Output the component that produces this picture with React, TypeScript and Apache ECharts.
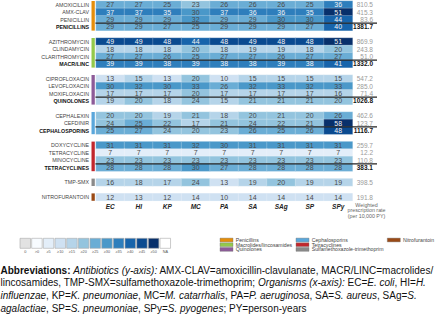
import React, { useEffect, useRef } from "react";
import * as echarts from "echarts";

const FONT = "Liberation Sans, Arial, sans-serif";

const organisms = ["EC", "HI", "KP", "MC", "PA", "SA", "SAg", "SP", "SPy"];

const groupNames = [
  "Penicillins",
  "Macrolides/lincosamides",
  "Quinolones",
  "Cephalosporins",
  "Tetracyclines",
  "Sulfamethoxazole-trimethoprim",
  "Nitrofurantoin",
];

const penicillinRows = ["AMOXICILLIN", "AMX-CLAV", "PENICILLIN", "PENICILLINS"];
const penicillinValues = [
  [27, 27, 25, 23, 26, 26, 26, 25, 36],
  [37, 37, 35, 30, 37, 36, 36, 35, 51],
  [29, 29, 29, 32, 29, 29, 30, 30, 44],
  [29, 29, 27, 25, 29, 29, 29, 27, 40],
];
const penicillinRates = [810.5, 415.3, 83.6, 1381.7];

const macrolideRows = ["AZITHROMYCIN", "CLINDAMYCIN", "CLARITHROMYCIN", "MACR/LINC"];
const macrolideValues = [
  [49, 49, 48, 44, 48, 49, 48, 48, 51],
  [18, 18, 18, 20, 18, 19, 19, 18, 20],
  [27, 27, 26, 25, 27, 27, 26, 27, 27],
  [39, 39, 38, 39, 38, 38, 39, 38, 41],
];
const macrolideRates = [869.9, 243.8, 51.0, 1332.0];

const quinoloneRows = ["CIPROFLOXACIN", "LEVOFLOXACIN", "MOXIFLOXACIN", "QUINOLONES"];
const quinoloneValues = [
  [13, 15, 13, 20, 10, 15, 15, 15, 15],
  [30, 32, 30, 33, 26, 32, 33, 32, 33],
  [17, 17, 17, 20, 17, 17, 17, 17, 16],
  [19, 20, 18, 24, 15, 21, 21, 21, 20],
];
const quinoloneRates = [547.2, 285.0, 71.4, 1026.8];

const cephalosporinRows = ["CEPHALEXIN", "CEFDINIR", "CEPHALOSPORINS"];
const cephalosporinValues = [
  [20, 20, 19, 21, 18, 20, 21, 20, 26],
  [24, 25, 22, 17, 21, 24, 22, 21, 58],
  [25, 27, 24, 20, 23, 26, 25, 26, 48],
];
const cephalosporinRates = [462.6, 123.7, 1116.7];

const tetracyclineRows = ["DOXYCYCLINE", "TETRACYCLINE", "MINOCYCLINE", "TETRACYCLINES"];
const tetracyclineValues = [
  [31, 31, 31, 32, 30, 31, 31, 31, 31],
  [7, 7, 7, 7, 7, 7, 7, 7, 7],
  [23, 23, 23, 23, 23, 23, 23, 23, 23],
  [28, 28, 28, 30, 27, 28, 28, 28, 28],
];
const tetracyclineRates = [259.7, 12.2, 110.8, 383.1];

const tmpSmxRows = ["TMP-SMX"];
const tmpSmxValues = [[16, 18, 17, 24, 13, 19, 20, 19, 19]];
const tmpSmxRates = [398.5];

const nitrofurantoinRows = ["NITROFURANTOIN"];
const nitrofurantoinValues = [[12, 13, 12, 14, 10, 14, 14, 14, 14]];
const nitrofurantoinRates = [191.8];

const colorbarLabels = ["0", ">0", "≥5", "≥10", "≥15", "≥20", "≥25", "≥30", "≥35", "≥40", "≥45", "≥50", "NA"];
const thresholds = [0, 5, 10, 15, 20, 25, 30, 35, 40, 45, 50];

const abbreviationLines = [
  "{b|Abbreviations:} {i|Antibiotics (y-axis):} AMX-CLAV=amoxicillin-clavulanate, MACR/LINC=macrolides/",
  "lincosamides, TMP-SMX=sulfamethoxazole-trimethoprim; {i|Organisms (x-axis):} EC={i|E. coli}, HI={i|H.}",
  "{i|influenzae}, KP={i|K. pneumoniae}, MC={i|M. catarrhalis}, PA={i|P. aeruginosa}, SA={i|S. aureus}, SAg={i|S.}",
  "{i|agalactiae}, SP={i|S. pneumoniae}, SPy={i|S. pyogenes}; PY=person-years",
];

// styles
const groupColors = ["#e58e0b", "#93c94b", "#8d5b98", "#5aa7db", "#c1272d", "#8a8a8a", "#9a4a16"];
const blueColors = [
  "#f7fbff", "#e3eef9", "#cfe1f2", "#b5d4e9", "#93c4de", "#6aadd5",
  "#4a98c9", "#2e7ebc", "#1764ab", "#0a4a90", "#08306b",
];
const zeroColor = "#e2e2e2";
const naColor = "#ffffff";

const groups = [
  { rows: penicillinRows, values: penicillinValues, rates: penicillinRates },
  { rows: macrolideRows, values: macrolideValues, rates: macrolideRates },
  { rows: quinoloneRows, values: quinoloneValues, rates: quinoloneRates },
  { rows: cephalosporinRows, values: cephalosporinValues, rates: cephalosporinRates },
  { rows: tetracyclineRows, values: tetracyclineValues, rates: tetracyclineRates },
  { rows: tmpSmxRows, values: tmpSmxValues, rates: tmpSmxRates },
  { rows: nitrofurantoinRows, values: nitrofurantoinValues, rates: nitrofurantoinRates },
];

export default function App() {
  const ref = useRef<HTMLDivElement>(null);
  useEffect(() => {
    if (!ref.current) return;
    const chart = echarts.init(ref.current, null, { renderer: "svg" });

    const yCats: string[] = [];
    const rateLabels: string[] = [];
    const summary: boolean[] = [];
    const groupSpan: { first: number; last: number }[] = [];
    const data: any[] = [];
    groups.forEach((g, gi) => {
      const first = yCats.length;
      g.rows.forEach((name, ri) => {
        const yi = yCats.length;
        yCats.push(name);
        rateLabels.push(g.rates[ri].toFixed(1));
        summary.push(g.rows.length > 1 && ri === g.rows.length - 1);
        g.values[ri].forEach((v, xi) => {
          data.push({
            value: [xi, yi, v],
            label: { color: v >= 35 ? "#f2f2f2" : "#4a4a4a" },
          });
        });
      });
      groupSpan.push({ first, last: yCats.length - 1 });
      if (gi < groups.length - 1) {
        yCats.push("gap" + gi);
        rateLabels.push("");
        summary.push(false);
      }
    });

    const pieces: any[] = [{ value: 0, color: zeroColor }];
    thresholds.forEach((t, i) => {
      if (i === 0) pieces.push({ gt: 0, lt: thresholds[1], color: blueColors[0] });
      else if (i === thresholds.length - 1) pieces.push({ gte: t, color: blueColors[i] });
      else pieces.push({ gte: t, lt: thresholds[i + 1], color: blueColors[i] });
    });

    const gridLeft = 96;
    const gridRight = 352.5;

    chart.setOption({
      animation: false,
      textStyle: { fontFamily: FONT },
      grid: { left: gridLeft, right: 440 - gridRight, top: 1, height: 199.8 },
      visualMap: { type: "piecewise", show: false, dimension: 2, pieces, seriesIndex: 0 },
      xAxis: {
        type: "category",
        data: organisms,
        position: "bottom",
        axisLine: { show: false },
        axisTick: { show: false },
        splitLine: { show: false },
        axisLabel: {
          interval: 0,
          margin: 2,
          fontSize: 6.5,
          fontWeight: "bold",
          fontStyle: "italic",
          color: "#222",
          fontFamily: FONT,
        },
      },
      yAxis: [
        {
          type: "category",
          data: yCats,
          inverse: true,
          axisLine: { show: false },
          axisTick: { show: false },
          splitLine: { show: false },
          axisLabel: {
            interval: 0,
            margin: 7,
            formatter: (v: string, idx: number) =>
              v.startsWith("gap") ? "" : summary[idx] ? `{b|${v}}` : `{n|${v}}`,
            rich: {
              b: { fontSize: 5.3, fontWeight: "bold", color: "#111", fontFamily: FONT },
              n: { fontSize: 5.3, color: "#444", fontFamily: FONT },
            },
          },
        },
        {
          type: "category",
          data: yCats,
          inverse: true,
          position: "right",
          axisLine: { show: false },
          axisTick: { show: false },
          splitLine: { show: false },
          axisLabel: {
            interval: 0,
            margin: 20.5,
            align: "right",
            formatter: (_v: string, idx: number) =>
              rateLabels[idx] ? (summary[idx] ? `{b|${rateLabels[idx]}}` : `{n|${rateLabels[idx]}}`) : "",
            rich: {
              b: { fontSize: 6.5, fontWeight: "bold", color: "#111", fontFamily: FONT },
              n: { fontSize: 6.5, color: "#9a9a9a", fontFamily: FONT },
            },
          },
        },
      ],
      series: [
        {
          type: "heatmap",
          data,
          xAxisIndex: 0,
          yAxisIndex: 0,
          itemStyle: { borderColor: "rgba(255,255,255,0.45)", borderWidth: 0.5 },
          label: {
            show: true,
            fontSize: 7,
            fontFamily: FONT,
            formatter: (p: any) => String(p.value[2]),
          },
          emphasis: { disabled: true },
        },
      ],
    });

    const c0 = chart.convertToPixel({ yAxisIndex: 0 }, 0) as number;
    const c1 = chart.convertToPixel({ yAxisIndex: 0 }, 1) as number;
    const rowH = c1 - c0;
    const yTop = (i: number) => (chart.convertToPixel({ yAxisIndex: 0 }, i) as number) - rowH / 2;

    const graphics: any[] = [];
    groupSpan.forEach((s, gi) => {
      graphics.push({
        type: "rect",
        shape: { x: 91.5, y: yTop(s.first), width: 3.3, height: (s.last - s.first + 1) * rowH },
        style: { fill: groupColors[gi] },
      });
      if (s.last > s.first) {
        const y = yTop(s.last);
        graphics.push({
          type: "line",
          shape: { x1: gridLeft - 0.5, y1: y, x2: 377, y2: y },
          style: { stroke: "#222", lineWidth: 1.3 },
          z: 10,
        });
      }
    });

    graphics.push({
      type: "text",
      x: 366.5,
      y: 202.3,
      style: {
        text: "Weighted\nprescription rate\n(per 10,000 PY)",
        fontSize: 5.3,
        lineHeight: 5.3,
        fill: "#666",
        fontFamily: FONT,
        align: "center",
        verticalAlign: "top",
      },
    });

    const cbColors = [zeroColor, ...blueColors, naColor];
    colorbarLabels.forEach((lab, i) => {
      const x = 20 + i * 11.67;
      graphics.push({
        type: "rect",
        shape: { x, y: 238.3, width: 10.5, height: 10 },
        style: { fill: cbColors[i], stroke: "#a8a8a8", lineWidth: 0.6 },
      });
      graphics.push({
        type: "text",
        x: x + 5.25,
        y: 252,
        style: { text: lab, fontSize: 3.8, fill: "#555", fontFamily: FONT, align: "center", verticalAlign: "middle" },
      });
    });

    const legendX = [220, 296, 387.3];
    const legendY = [240, 244.7, 249.4];
    groupNames.forEach((name, gi) => {
      const col = Math.floor(gi / 3);
      const row = gi % 3;
      const x = legendX[col];
      const y = legendY[row];
      graphics.push({
        type: "rect",
        shape: { x, y: y - 1.9, width: 13, height: 3.8 },
        style: { fill: groupColors[gi], stroke: "#777", lineWidth: 0.4 },
      });
      graphics.push({
        type: "text",
        x: x + 15.7,
        y,
        style: { text: name, fontSize: 5.2, fill: "#444", fontFamily: FONT, verticalAlign: "middle" },
      });
    });

    abbreviationLines.forEach((line, i) => {
      graphics.push({
        type: "text",
        x: 0.5,
        y: 270 + i * 12.8,
        style: {
          text: line,
          fontSize: 10,
          fill: "#111",
          fontFamily: FONT,
          verticalAlign: "middle",
          rich: {
            b: { fontSize: 10, fontWeight: "bold", fill: "#111", fontFamily: FONT },
            i: { fontSize: 10, fontStyle: "italic", fill: "#111", fontFamily: FONT },
          },
        },
      });
    });

    chart.setOption({ graphic: graphics });

    return () => chart.dispose();
  }, []);
  return <div ref={ref} style={{ position: "absolute", left: 0, top: 0, width: 440, height: 317 }} />;
}
